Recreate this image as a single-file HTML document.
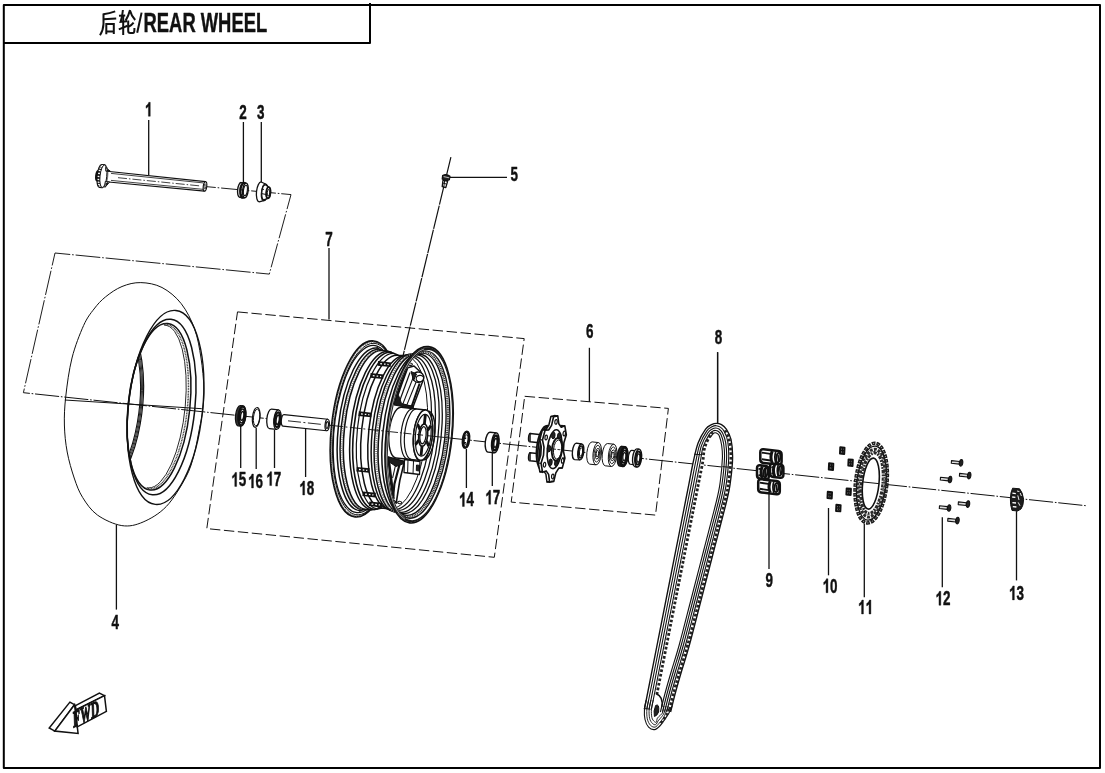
<!DOCTYPE html>
<html><head><meta charset="utf-8"><title>REAR WHEEL</title>
<style>
html,body{margin:0;padding:0;background:#fff;}
body{width:1105px;height:773px;overflow:hidden;font-family:"Liberation Sans",sans-serif;}
svg{display:block;position:absolute;left:0;top:0;will-change:transform;opacity:.999;}
svg text{font-family:"Liberation Sans",sans-serif;font-weight:bold;fill:#111;stroke:#111;stroke-width:.45px;}
</style></head><body>
<svg width="1105" height="773" viewBox="0 0 1105 773" stroke-linecap="butt" stroke-linejoin="round">
<rect x="0" y="0" width="1105" height="773" fill="#fff"/>
<path d="M3.8 768 V4.9 H1100 V768 Z" fill="none" stroke="#000" stroke-width="2"/>
<path d="M3.8 43 H370 V3" fill="none" stroke="#000" stroke-width="2"/>
<text transform="translate(143.6 32.4) scale(0.645 1)" font-size="28.5">REAR WHEEL</text>
<g fill="none" stroke="#111" stroke-width="2.0" stroke-linecap="butt" stroke-linejoin="miter">
<path d="M141.6 12.6 L137.2 32.8" stroke-width="2.0"/>
<path d="M115.2 11.4 Q109.5 13.4 103.4 14.2"/>
<path d="M103.5 13.4 V24 Q103.2 30.5 100.0 35.2"/>
<path d="M103.5 19.2 L116.2 18.6"/>
<path d="M106.3 23.0 V34.2 M113.8 23.0 V34.0 M106.3 24.0 H113.8 M106.3 31.4 H113.8"/>
<path d="M119.0 15.7 L125.2 15.4"/>
<path d="M122.9 10.0 Q122.4 16.5 120.6 21.9 L127.0 21.2"/>
<path d="M123.2 15.6 V35.0"/>
<path d="M118.8 29.4 L127.6 25.8"/>
<path d="M130.0 10.0 Q128.6 15.8 125.6 20.6"/>
<path d="M130.0 10.4 Q131.4 16.0 135.2 20.0"/>
<path d="M133.6 22.6 Q131.6 25.2 128.8 26.6"/>
<path d="M128.2 20.6 V31.0 Q128.2 33.0 130.2 33.0 H133.2 Q134.6 33.0 134.4 28.0"/>
</g>
<path transform="translate(144.96 116.28) scale(0.00657 -0.00952)" d="M806 0H526V1055Q373 911 165 842V1096Q274 1132 402 1231Q530 1331 578 1464H806Z" fill="#111" stroke="#111" stroke-width="47.26"/>
<text transform="translate(239.16 118.88) scale(0.69 1)" font-size="19.5">2</text>
<text transform="translate(257.06 118.88) scale(0.69 1)" font-size="19.5">3</text>
<text transform="translate(111.56 629.18) scale(0.69 1)" font-size="19.5">4</text>
<text transform="translate(510.46 181.48) scale(0.69 1)" font-size="19.5">5</text>
<text transform="translate(586.06 337.98) scale(0.69 1)" font-size="19.5">6</text>
<text transform="translate(325.26 245.98) scale(0.69 1)" font-size="19.5">7</text>
<text transform="translate(714.76 344.08) scale(0.69 1)" font-size="19.5">8</text>
<text transform="translate(765.56 586.68) scale(0.69 1)" font-size="19.5">9</text>
<path transform="translate(822.62 592.68) scale(0.00657 -0.00952)" d="M806 0H526V1055Q373 911 165 842V1096Q274 1132 402 1231Q530 1331 578 1464H806Z" fill="#111" stroke="#111" stroke-width="47.26"/>
<text transform="translate(830.1 592.68) scale(0.69 1)" font-size="19.5">0</text>
<path transform="translate(858.12 613.98) scale(0.00657 -0.00952)" d="M806 0H526V1055Q373 911 165 842V1096Q274 1132 402 1231Q530 1331 578 1464H806Z" fill="#111" stroke="#111" stroke-width="47.26"/>
<path transform="translate(865.6 613.98) scale(0.00657 -0.00952)" d="M806 0H526V1055Q373 911 165 842V1096Q274 1132 402 1231Q530 1331 578 1464H806Z" fill="#111" stroke="#111" stroke-width="47.26"/>
<path transform="translate(935.52 605.28) scale(0.00657 -0.00952)" d="M806 0H526V1055Q373 911 165 842V1096Q274 1132 402 1231Q530 1331 578 1464H806Z" fill="#111" stroke="#111" stroke-width="47.26"/>
<text transform="translate(943 605.28) scale(0.69 1)" font-size="19.5">2</text>
<path transform="translate(1009.02 599.88) scale(0.00657 -0.00952)" d="M806 0H526V1055Q373 911 165 842V1096Q274 1132 402 1231Q530 1331 578 1464H806Z" fill="#111" stroke="#111" stroke-width="47.26"/>
<text transform="translate(1016.5 599.88) scale(0.69 1)" font-size="19.5">3</text>
<path transform="translate(459.02 506.48) scale(0.00657 -0.00952)" d="M806 0H526V1055Q373 911 165 842V1096Q274 1132 402 1231Q530 1331 578 1464H806Z" fill="#111" stroke="#111" stroke-width="47.26"/>
<text transform="translate(466.5 506.48) scale(0.69 1)" font-size="19.5">4</text>
<path transform="translate(231.32 486.38) scale(0.00657 -0.00952)" d="M806 0H526V1055Q373 911 165 842V1096Q274 1132 402 1231Q530 1331 578 1464H806Z" fill="#111" stroke="#111" stroke-width="47.26"/>
<text transform="translate(238.8 486.38) scale(0.69 1)" font-size="19.5">5</text>
<path transform="translate(248.12 487.98) scale(0.00657 -0.00952)" d="M806 0H526V1055Q373 911 165 842V1096Q274 1132 402 1231Q530 1331 578 1464H806Z" fill="#111" stroke="#111" stroke-width="47.26"/>
<text transform="translate(255.6 487.98) scale(0.69 1)" font-size="19.5">6</text>
<path transform="translate(266.32 485.58) scale(0.00657 -0.00952)" d="M806 0H526V1055Q373 911 165 842V1096Q274 1132 402 1231Q530 1331 578 1464H806Z" fill="#111" stroke="#111" stroke-width="47.26"/>
<text transform="translate(273.8 485.58) scale(0.69 1)" font-size="19.5">7</text>
<path transform="translate(485.32 504.28) scale(0.00657 -0.00952)" d="M806 0H526V1055Q373 911 165 842V1096Q274 1132 402 1231Q530 1331 578 1464H806Z" fill="#111" stroke="#111" stroke-width="47.26"/>
<text transform="translate(492.8 504.28) scale(0.69 1)" font-size="19.5">7</text>
<path transform="translate(299.32 494.98) scale(0.00657 -0.00952)" d="M806 0H526V1055Q373 911 165 842V1096Q274 1132 402 1231Q530 1331 578 1464H806Z" fill="#111" stroke="#111" stroke-width="47.26"/>
<text transform="translate(306.8 494.98) scale(0.69 1)" font-size="19.5">8</text>
<path d="M148.7 120L148.7 175" stroke="#111" stroke-width="1.3" fill="none" />
<path d="M243.4 122L243.4 183.5" stroke="#111" stroke-width="1.3" fill="none" />
<path d="M261.3 122L261.3 182.6" stroke="#111" stroke-width="1.3" fill="none" />
<path d="M116.4 524.8L116.4 609.6" stroke="#111" stroke-width="1.3" fill="none" />
<path d="M449.8 177.4L507 177.4" stroke="#111" stroke-width="1.3" fill="none" />
<path d="M589.4 347.8L589.4 401.9" stroke="#111" stroke-width="1.3" fill="none" />
<path d="M329 248L329 319.6" stroke="#111" stroke-width="1.3" fill="none" />
<path d="M717.6 352.2L717.6 423.4" stroke="#111" stroke-width="1.3" fill="none" />
<path d="M769 493.8L769 568.9" stroke="#111" stroke-width="1.3" fill="none" />
<path d="M828.5 508L828.5 575.3" stroke="#111" stroke-width="1.3" fill="none" />
<path d="M864.3 523.6L864.3 597.3" stroke="#111" stroke-width="1.3" fill="none" />
<path d="M942.3 517.2L942.3 587.2" stroke="#111" stroke-width="1.3" fill="none" />
<path d="M1016.5 511.1L1016.5 580.4" stroke="#111" stroke-width="1.3" fill="none" />
<path d="M466.4 449L466.4 488" stroke="#111" stroke-width="1.3" fill="none" />
<path d="M240.7 426L240.7 468" stroke="#111" stroke-width="1.3" fill="none" />
<path d="M256.2 428L256.2 469" stroke="#111" stroke-width="1.3" fill="none" />
<path d="M274.5 430L274.5 468" stroke="#111" stroke-width="1.3" fill="none" />
<path d="M492.3 453L492.3 486" stroke="#111" stroke-width="1.3" fill="none" />
<path d="M305.6 428.8L305.6 477" stroke="#111" stroke-width="1.3" fill="none" />
<g id="tire">
<path d="M140.8 282.6 C147.47 282.77 155.27 284 162 287.5 C168.73 291 175.77 296.7 181.2 303.6 C186.63 310.5 191.3 319.83 194.6 328.9 C197.9 337.97 199.45 348.15 201 358 C202.55 367.85 203.6 379.33 203.9 388 C204.2 396.67 203.55 403.2 202.8 410 C202.05 416.8 200.87 421.3 199.4 428.8 C197.93 436.3 196.27 446.92 194 455 C191.73 463.08 190.4 468.73 185.8 477.3 C181.2 485.87 173.52 498.95 166.4 506.4 C159.28 513.85 150.53 518.8 143.1 522 C135.67 525.2 129.42 526.77 121.8 525.6 C114.18 524.43 103.93 519.7 97.4 515 C90.87 510.3 86.47 503.57 82.6 497.4 C78.73 491.23 76.77 485.57 74.2 478 C71.63 470.43 68.83 460.83 67.2 452 C65.57 443.17 64.63 434.32 64.4 425 C64.17 415.68 64.53 407.27 65.8 396.1 C67.07 384.93 69.03 369.77 72 358 C74.97 346.23 79.93 333.67 83.6 325.5 C87.27 317.33 90.35 313.77 94 309 C97.65 304.23 100.83 300.65 105.5 296.9 C110.17 293.15 116.12 288.88 122 286.5 C127.88 284.12 134.13 282.43 140.8 282.6Z" fill="#fff" stroke="#111" stroke-width="1" />
<path d="M64.8 400.0 L201.8 408.7" fill="none" stroke="#111" stroke-width="1" />
<path d="M202.44 411.37 A37.1 97.5 6.07 0 1 155.24 504.4 A37.1 97.5 6.07 0 1 128.66 403.53 A37.1 97.5 6.07 0 1 175.86 310.5 A37.1 97.5 6.07 0 1 202.44 411.37" fill="none" stroke="#111" stroke-width="1.35" />
<path d="M194.71 410.57 A33.3 88.2 6.07 0 1 152.27 494.76 A33.3 88.2 6.07 0 1 128.49 403.53 A33.3 88.2 6.07 0 1 170.93 319.34 A33.3 88.2 6.07 0 1 194.71 410.57" fill="none" stroke="#111" stroke-width="1.5" />
<path d="M189.68 410.02 A30.9 83.7 6.07 0 1 150.1 489.98 A30.9 83.7 6.07 0 1 128.22 403.48 A30.9 83.7 6.07 0 1 167.8 323.52 A30.9 83.7 6.07 0 1 189.68 410.02" fill="none" stroke="#111" stroke-width="1.5" />
<path d="M163.84 324.4 A29.7 82.7 6.07 0 1 187.88 402.56 A29.7 82.7 6.07 0 1 151.56 488.8 A29.7 82.7 6.07 0 1 146.41 488.25" fill="none" stroke="#444" stroke-width="1.5" stroke-dasharray="1.0 0.6"/>
<path d="M164.15 325.1 A28.6 81.8 6.07 0 1 185.22 406.68 A28.6 81.8 6.07 0 1 148.85 487.9 A28.6 81.8 6.07 0 1 146.86 487.69" fill="none" stroke="#111" stroke-width="0.9" />
<clipPath id="tclip"><path d="M189.68 410.02 A30.9 83.7 6.07 0 1 150.1 489.98 A30.9 83.7 6.07 0 1 128.22 403.48 A30.9 83.7 6.07 0 1 167.8 323.52 A30.9 83.7 6.07 0 1 189.68 410.02"/></clipPath>
<g clip-path="url(#tclip)">
<path d="M125.19 323.83 A31.5 84 6.07 0 1 140.31 423.3 A31.5 84 6.07 0 1 107.69 488.35" fill="none" stroke="#111" stroke-width="1.2" />
<path d="M124.12 324.31 A31.5 83.4 6.07 0 1 139.32 423.09 A31.5 83.4 6.07 0 1 106.75 487.66" fill="none" stroke="#111" stroke-width="0.9" />
<path d="M123.06 324.79 A31.5 82.8 6.07 0 1 138.33 422.88 A31.5 82.8 6.07 0 1 105.82 486.96" fill="none" stroke="#111" stroke-width="0.9" />
<path d="M122 325.27 A31.5 82.2 6.07 0 1 137.34 422.67 A31.5 82.2 6.07 0 1 104.88 486.27" fill="none" stroke="#111" stroke-width="1.1" />
</g>
</g>
<path d="M205 186.5 L291 194.6 L269.3 274.1" fill="none" stroke="#111" stroke-width="0.95" stroke-dasharray="24.8 1.9 1.6 1.9" stroke-dashoffset="14"/>
<path d="M55 253 L269.3 274.1" fill="none" stroke="#111" stroke-width="0.95" stroke-dasharray="24.8 1.9 1.6 1.9" stroke-dashoffset="9.5"/>
<path d="M55 253 L23.4 392.7" fill="none" stroke="#111" stroke-width="0.95" stroke-dasharray="24.8 1.9 1.6 1.9" stroke-dashoffset="12"/>
<path d="M23.4 392.7 L1086 505.7" fill="none" stroke="#111" stroke-width="1" stroke-dasharray="24.2 1.8 1.6 1.8" stroke-dashoffset="17.7"/>
<path d="M450.9 157.1 L403.0 356" fill="none" stroke="#111" stroke-width="1.2" stroke-dasharray="24 0.9"/>
<path d="M237.5 311.9 L524.2 338.6 L494.3 557.3 L206.8 528.6 Z" fill="none" stroke="#111" stroke-width="1" stroke-dasharray="10.4 3.6"/>
<path d="M524.7 396.3 L668.4 408.4 L655.5 515.1 L511.2 502.1 Z" fill="none" stroke="#111" stroke-width="1" stroke-dasharray="10.4 3.6"/>
<g id="axle">
<path d="M205.51 181.63 A1.79 4.8 6.07 0 1 206.78 186.59 A1.79 4.8 6.07 0 1 204.49 191.17 L105.94 181.82 A1.97 5.3 6.07 0 1 104.54 176.34 A1.97 5.3 6.07 0 1 107.06 171.28Z" fill="#fff" stroke="#111" stroke-width="1.1" />
<path d="M204.49 191.17 A1.79 4.8 6.07 0 1 203.22 186.21 A1.79 4.8 6.07 0 1 205.51 181.63" fill="none" stroke="#111" stroke-width="1.1" />
<path d="M205.96 186.5 A0.97 2.6 6.07 0 1 204.73 188.99 A0.97 2.6 6.07 0 1 204.04 186.3 A0.97 2.6 6.07 0 1 205.27 183.81 A0.97 2.6 6.07 0 1 205.96 186.5" fill="none" stroke="#111" stroke-width="0.9" />
<path d="M111 173.4L203.5 182.94" stroke="#111" stroke-width="0.8" fill="none" />
<path d="M111 180.4L203.5 189.38" stroke="#111" stroke-width="0.8" fill="none" />
<path d="M118 177.7 L200 185.9" fill="none" stroke="#111" stroke-width="0.8" stroke-dasharray="9 2 1.5 2"/>
<path d="M99.93 170.87 A1.7 5 6.07 0 1 101.09 176.02 A1.7 5 6.07 0 1 98.87 180.81 L97.07 180.63 A1.7 5 6.07 0 1 95.91 175.48 A1.7 5 6.07 0 1 98.13 170.69Z" fill="#1c1c1c" stroke="#111" stroke-width="1.6" />
<path d="M98.87 180.81 A1.7 5 6.07 0 1 97.71 175.66 A1.7 5 6.07 0 1 99.93 170.87" fill="none" stroke="#111" stroke-width="1.6" />
<path d="M104.59 165 A3.39 11.3 6.07 0 1 106.77 176.6 A3.39 11.3 6.07 0 1 102.21 187.48 L99.41 187.2 A3.39 11.3 6.07 0 1 97.23 175.6 A3.39 11.3 6.07 0 1 101.79 164.72Z" fill="#1c1c1c" stroke="#111" stroke-width="1.4" />
<path d="M102.21 187.48 A3.39 11.3 6.07 0 1 100.03 175.88 A3.39 11.3 6.07 0 1 104.59 165" fill="none" stroke="#111" stroke-width="1.4" />
<path d="M98.86 185.91 l2.2 0.22" stroke="#fff" stroke-width="1.3" fill="none"/>
<path d="M98.17 184.43 l2.2 0.22" stroke="#fff" stroke-width="1.3" fill="none"/>
<path d="M97.72 182.21 l2.2 0.22" stroke="#fff" stroke-width="1.3" fill="none"/>
<path d="M97.55 179.45 l2.2 0.22" stroke="#fff" stroke-width="1.3" fill="none"/>
<path d="M97.67 176.39 l2.2 0.22" stroke="#fff" stroke-width="1.3" fill="none"/>
<path d="M98.07 173.29 l2.2 0.22" stroke="#fff" stroke-width="1.3" fill="none"/>
<path d="M98.72 170.43 l2.2 0.22" stroke="#fff" stroke-width="1.3" fill="none"/>
<path d="M99.56 168.05 l2.2 0.22" stroke="#fff" stroke-width="1.3" fill="none"/>
<path d="M100.52 166.37 l2.2 0.22" stroke="#fff" stroke-width="1.3" fill="none"/>
<path d="M101.51 165.53 l2.2 0.22" stroke="#fff" stroke-width="1.3" fill="none"/>
<path d="M106.77 176.6 A3.39 11.3 6.07 0 1 102.21 187.48 A3.39 11.3 6.07 0 1 100.03 175.88 A3.39 11.3 6.07 0 1 104.59 165 A3.39 11.3 6.07 0 1 106.77 176.6" fill="#fff" stroke="#111" stroke-width="1" />
<path d="M105.97 166.09 A3.12 10.4 6.07 0 1 107.59 177.59 A3.12 10.4 6.07 0 1 103.77 186.69" fill="none" stroke="#666" stroke-width="0.9" />
<path d="M105.6 167.4 L110.4 171.3 L105.8 171.2 Z M105.0 187.4 L109.6 181.9 L105.2 181.6 Z" fill="#fff" stroke="#111" stroke-width="1.0"/>
<path d="M106.6 169.6 l2.2 1.6 M106.0 184.6 l2.0 -2.0" stroke="#111" stroke-width="1.6" fill="none"/>
</g>
<g id="nut2">
<path d="M246.18 183.08 A2.75 7.4 6.07 0 1 248.14 190.73 A2.75 7.4 6.07 0 1 244.62 197.8 L239.62 197.3 A2.75 7.4 6.07 0 1 237.66 189.65 A2.75 7.4 6.07 0 1 241.18 182.58Z" fill="#fff" stroke="#111" stroke-width="1.4" />
<path d="M244.62 197.8 A2.75 7.4 6.07 0 1 242.66 190.15 A2.75 7.4 6.07 0 1 246.18 183.08" fill="none" stroke="#111" stroke-width="1.4" />
<path d="M243.89 196.74 A2.75 7.4 6.07 0 1 240.44 193.65 A2.75 7.4 6.07 0 1 242.51 183.7 A2.75 7.4 6.07 0 1 245.25 183.99" fill="none" stroke="#111" stroke-width="2.4" />
<path d="M247.32 190.64 A1.93 5.2 6.07 0 1 244.85 195.61 A1.93 5.2 6.07 0 1 243.48 190.24 A1.93 5.2 6.07 0 1 245.95 185.27 A1.93 5.2 6.07 0 1 247.32 190.64" fill="none" stroke="#111" stroke-width="1.1" />
<path d="M240.6 189.76L242.6 190.06" stroke="#111" stroke-width="1" fill="none" />
<path d="M240.8 194.58L242.6 194.96" stroke="#111" stroke-width="1" fill="none" />
</g>
<g id="cone3">
<path d="M265.49 184.01 A3.12 8.4 6.07 0 1 267.71 192.69 A3.12 8.4 6.07 0 1 263.71 200.71 L259.14 201.86 A3.72 10 6.07 0 1 256.5 191.53 A3.72 10 6.07 0 1 261.26 181.98Z" fill="#fff" stroke="#111" stroke-width="1.3" />
<path d="M266.01 184.19 A3.12 8.4 6.07 0 1 267.51 194.14 A3.12 8.4 6.07 0 1 263.19 200.53 A3.12 8.4 6.07 0 1 261.69 190.58 A3.12 8.4 6.07 0 1 265.49 184.01" fill="none" stroke="#111" stroke-width="1.2" />
<path d="M268.89 187.16 A2.08 5.6 6.07 0 1 270.37 192.95 A2.08 5.6 6.07 0 1 267.71 198.3 L263.8 199.92 A2.83 7.6 6.07 0 1 261.79 192.06 A2.83 7.6 6.07 0 1 265.4 184.8Z" fill="#fff" stroke="#111" stroke-width="1.3" />
<path d="M270.37 192.95 A2.08 5.6 6.07 0 1 267.71 198.3 A2.08 5.6 6.07 0 1 266.23 192.51 A2.08 5.6 6.07 0 1 268.89 187.16 A2.08 5.6 6.07 0 1 270.37 192.95" fill="#fff" stroke="#111" stroke-width="1.9" />
<path d="M269.72 192.88 A1.23 3.3 6.07 0 1 268.15 196.03 A1.23 3.3 6.07 0 1 267.28 192.62 A1.23 3.3 6.07 0 1 268.85 189.47 A1.23 3.3 6.07 0 1 269.72 192.88" fill="none" stroke="#111" stroke-width="1" />
<path d="M262 188.9L264 189.5" stroke="#111" stroke-width="1" fill="none" />
<path d="M262 193.7L266.5 194.55" stroke="#111" stroke-width="1" fill="none" />
</g>
<g id="p15-18">
<path d="M243.08 405.79 A3.79 10.2 6.07 0 1 245.77 416.34 A3.79 10.2 6.07 0 1 240.92 426.08 L238.22 425.79 A3.79 10.2 6.07 0 1 235.53 415.25 A3.79 10.2 6.07 0 1 240.38 405.51Z" fill="#333" stroke="#111" stroke-width="1.2" />
<path d="M240.92 426.08 A3.79 10.2 6.07 0 1 238.23 415.54 A3.79 10.2 6.07 0 1 243.08 405.79" fill="none" stroke="#111" stroke-width="1.2" />
<path d="M245.44 416.3 A3.46 9.3 6.07 0 1 241.02 425.19 A3.46 9.3 6.07 0 1 238.56 415.57 A3.46 9.3 6.07 0 1 242.98 406.69 A3.46 9.3 6.07 0 1 245.44 416.3" fill="#fff" stroke="#111" stroke-width="2" />
<path d="M244.59 416.21 A2.6 7 6.07 0 1 241.26 422.9 A2.6 7 6.07 0 1 239.41 415.66 A2.6 7 6.07 0 1 242.74 408.98 A2.6 7 6.07 0 1 244.59 416.21" fill="none" stroke="#111" stroke-width="1.5" />
<path d="M243.83 416.13 A1.64 4.4 6.07 0 1 241.73 420.33 A1.64 4.4 6.07 0 1 240.57 415.79 A1.64 4.4 6.07 0 1 242.67 411.58 A1.64 4.4 6.07 0 1 243.83 416.13" fill="none" stroke="#111" stroke-width="1.5" />
<path d="M259.9 417.84 A3.72 10 6.07 0 1 255.14 427.39 A3.72 10 6.07 0 1 252.5 417.05 A3.72 10 6.07 0 1 257.26 407.5 A3.72 10 6.07 0 1 259.9 417.84" fill="#fff" stroke="#111" stroke-width="1.2" />
<path d="M259.71 417.82 A3.12 8.4 6.07 0 1 255.71 425.84 A3.12 8.4 6.07 0 1 253.49 417.16 A3.12 8.4 6.07 0 1 257.49 409.14 A3.12 8.4 6.07 0 1 259.71 417.82" fill="none" stroke="#111" stroke-width="1" />
<path d="M278.54 409.97 A3.65 9.8 6.07 0 1 281.13 420.1 A3.65 9.8 6.07 0 1 276.46 429.46 L269.46 428.71 A3.65 9.8 6.07 0 1 266.87 418.58 A3.65 9.8 6.07 0 1 271.54 409.22Z" fill="#fff" stroke="#111" stroke-width="1.3" />
<path d="M276.46 429.46 A3.65 9.8 6.07 0 1 273.87 419.33 A3.65 9.8 6.07 0 1 278.54 409.97" fill="none" stroke="#111" stroke-width="1.3" />
<path d="M280.24 420 A2.75 7.4 6.07 0 1 276.72 427.07 A2.75 7.4 6.07 0 1 274.76 419.42 A2.75 7.4 6.07 0 1 278.28 412.35 A2.75 7.4 6.07 0 1 280.24 420" fill="none" stroke="#111" stroke-width="2.2" />
<path d="M279.4 419.91 A1.71 4.6 6.07 0 1 277.21 424.31 A1.71 4.6 6.07 0 1 276 419.55 A1.71 4.6 6.07 0 1 278.19 415.16 A1.71 4.6 6.07 0 1 279.4 419.91" fill="none" stroke="#111" stroke-width="1.7" />
<path d="M327.81 419.23 A2.16 5.8 6.07 0 1 329.35 425.22 A2.16 5.8 6.07 0 1 326.59 430.76 L282.89 426.12 A2.16 5.8 6.07 0 1 281.35 420.12 A2.16 5.8 6.07 0 1 284.11 414.58Z" fill="#fff" stroke="#111" stroke-width="1.2" />
<path d="M326.59 430.76 A2.16 5.8 6.07 0 1 325.05 424.77 A2.16 5.8 6.07 0 1 327.81 419.23" fill="none" stroke="#111" stroke-width="1.2" />
<path d="M328.46 425.13 A1.26 3.4 6.07 0 1 326.84 428.37 A1.26 3.4 6.07 0 1 325.94 424.86 A1.26 3.4 6.07 0 1 327.56 421.61 A1.26 3.4 6.07 0 1 328.46 425.13" fill="none" stroke="#111" stroke-width="1.2" />
<path d="M288 420.83 L322 424.44" fill="none" stroke="#111" stroke-width="0.9" stroke-dasharray="13 2.5 2 2.5"/>
</g>
<g id="p14-17b">
<path d="M468.96 440.06 A2.98 8 6.07 0 1 465.15 447.7 A2.98 8 6.07 0 1 463.04 439.43 A2.98 8 6.07 0 1 466.85 431.79 A2.98 8 6.07 0 1 468.96 440.06" fill="#fff" stroke="#111" stroke-width="2.6" />
<path d="M468.05 439.97 A1.86 5 6.07 0 1 465.67 444.74 A1.86 5 6.07 0 1 464.35 439.57 A1.86 5 6.07 0 1 466.73 434.8 A1.86 5 6.07 0 1 468.05 439.97" fill="none" stroke="#111" stroke-width="1" />
<path d="M463.6 437.89 l2.6 0.6 M463.8 442.91 l2.4 -0.2" stroke="#111" stroke-width="1.6" fill="none"/>
<path d="M496.36 432.92 A3.72 10 6.07 0 1 499 443.26 A3.72 10 6.07 0 1 494.24 452.81 L487.94 452.14 A3.72 10 6.07 0 1 485.3 441.8 A3.72 10 6.07 0 1 490.06 432.25Z" fill="#fff" stroke="#111" stroke-width="1.4" />
<path d="M494.24 452.81 A3.72 10 6.07 0 1 491.6 442.47 A3.72 10 6.07 0 1 496.36 432.92" fill="none" stroke="#111" stroke-width="1.4" />
<path d="M498.04 443.15 A2.75 7.4 6.07 0 1 494.52 450.22 A2.75 7.4 6.07 0 1 492.56 442.57 A2.75 7.4 6.07 0 1 496.08 435.5 A2.75 7.4 6.07 0 1 498.04 443.15" fill="none" stroke="#111" stroke-width="2.4" />
<path d="M497.13 443.06 A1.64 4.4 6.07 0 1 495.03 447.26 A1.64 4.4 6.07 0 1 493.87 442.71 A1.64 4.4 6.07 0 1 495.97 438.51 A1.64 4.4 6.07 0 1 497.13 443.06" fill="none" stroke="#111" stroke-width="1.5" />
</g>
<g id="rim">
<path d="M397.06 432.42 A32.85 88.3 6.07 0 1 355.06 516.75 A32.85 88.3 6.07 0 1 331.74 425.47 A32.85 88.3 6.07 0 1 373.74 341.14 A32.85 88.3 6.07 0 1 397.06 432.42" fill="#fff" stroke="#111" stroke-width="2" />
<path d="M367.94 510.78 A32.07 86.2 6.07 0 1 332.52 455.21 A32.07 86.2 6.07 0 1 363.26 347.37 A32.07 86.2 6.07 0 1 389.44 356.54" fill="none" stroke="#111" stroke-width="1" />
<path d="M367.78 508.69 A31.25 84 6.07 0 1 333.26 454.53 A31.25 84 6.07 0 1 363.22 349.44 A31.25 84 6.07 0 1 388.73 358.38" fill="none" stroke="#111" stroke-width="1.3" />
<path d="M376.6 347.48 L377.36 347.96 L379.61 349.61 L382.55 350.53 L388.72 351.48 L391.45 352.38 L398.32 355.32 L405.54 355.89 L409.7 354.82 L413.22 354.09 L417.25 354.22 L422.07 352.62 L422.07 352.62 A30.5 82 6.07 0 1 443.73 437.38 A30.5 82 6.07 0 1 404.73 515.7 L404.73 515.7 L400.35 513.12 L396.38 512.4 L393.1 510.94 L389.26 509.02 L382.08 508.06 L374.75 509.49 L371.88 509.79 L365.65 509.43 L362.59 509.71 L360.04 510.85 L359.2 511.16 L359.2 511.16 A30.62 82.3 6.07 0 1 337.46 426.08 A30.62 82.3 6.07 0 1 376.6 347.48Z" fill="#fff" stroke="none" stroke-width="0" />
<path d="M376.6 347.48 L377.36 347.96 L379.61 349.61 L382.55 350.53 L388.72 351.48 L391.45 352.38 L398.32 355.32 L405.54 355.89 L409.7 354.82 L413.22 354.09 L417.25 354.22 L422.07 352.62" fill="none" stroke="#111" stroke-width="1.6" />
<path d="M359.2 511.16 L360.04 510.85 L362.59 509.71 L365.65 509.43 L371.88 509.79 L374.75 509.49 L382.08 508.06 L389.26 509.02 L393.1 510.94 L396.38 512.4 L400.35 513.12 L404.73 515.7" fill="none" stroke="#111" stroke-width="1.6" />
<path d="M360.04 510.85 A30.47 81.9 6.07 0 1 338.4 426.18 A30.47 81.9 6.07 0 1 377.36 347.96" fill="none" stroke="#111" stroke-width="1.5" />
<path d="M362.59 509.71 A29.95 80.5 6.07 0 1 341.32 426.49 A29.95 80.5 6.07 0 1 379.61 349.61" fill="none" stroke="#111" stroke-width="1.5" />
<path d="M365.65 509.43 A29.72 79.9 6.07 0 1 344.54 426.84 A29.72 79.9 6.07 0 1 382.55 350.53" fill="none" stroke="#111" stroke-width="1.6" />
<path d="M371.88 509.79 A29.61 79.6 6.07 0 1 350.85 427.51 A29.61 79.6 6.07 0 1 388.72 351.48" fill="none" stroke="#111" stroke-width="1.5" />
<path d="M374.75 509.49 A29.39 79 6.07 0 1 353.88 427.83 A29.39 79 6.07 0 1 391.45 352.38" fill="none" stroke="#111" stroke-width="1.6" />
<path d="M382.08 508.06 A28.57 76.8 6.07 0 1 361.79 428.67 A28.57 76.8 6.07 0 1 398.32 355.32" fill="none" stroke="#111" stroke-width="1.5" />
<path d="M389.26 509.02 A28.64 77 6.07 0 1 368.92 429.43 A28.64 77 6.07 0 1 405.54 355.89" fill="none" stroke="#111" stroke-width="1.5" />
<path d="M393.1 510.94 A29.2 78.5 6.07 0 1 372.36 429.79 A29.2 78.5 6.07 0 1 409.7 354.82" fill="none" stroke="#111" stroke-width="1.5" />
<path d="M396.38 512.4 A29.61 79.6 6.07 0 1 375.35 430.11 A29.61 79.6 6.07 0 1 413.22 354.09" fill="none" stroke="#111" stroke-width="1.5" />
<path d="M400.35 513.12 A29.72 79.9 6.07 0 1 379.24 430.53 A29.72 79.9 6.07 0 1 417.25 354.22" fill="none" stroke="#111" stroke-width="1.6" />
<path d="M404.73 515.7 A30.5 82 6.07 0 1 383.07 430.93 A30.5 82 6.07 0 1 422.07 352.62" fill="none" stroke="#111" stroke-width="1.5" />
<path d="M378.13 509.05 A29.09 78.2 6.07 0 1 357.47 428.21 A29.09 78.2 6.07 0 1 394.67 353.53" fill="none" stroke="#111" stroke-width="1.2" />
<path d="M361.42 514.99 A32.44 87.2 6.07 0 1 331.53 440.68 A32.44 87.2 6.07 0 1 368.38 343.01 A32.44 87.2 6.07 0 1 382.16 346.13" fill="none" stroke="#888" stroke-width="1.2" stroke-dasharray="1.1 1.1"/>
<path d="M361.57 508.99 A29.83 80.2 6.07 0 1 343.78 419.73 A29.83 80.2 6.07 0 1 378.46 350.1" fill="none" stroke="#888" stroke-width="1.4" stroke-dasharray="1.1 1.1"/>
<path d="M395.82 512.23 A29.69 79.8 6.07 0 1 378.13 423.41 A29.69 79.8 6.07 0 1 412.63 354.13" fill="none" stroke="#777" stroke-width="1.8" stroke-dasharray="1.1 1.1"/>
<path d="M377.81 363.35 l13 1.38" stroke="#111" stroke-width="4.6" fill="none"/>
<path d="M380.21 363.65 l1.8 0.19 M384.01 364.05 l1.6 0.17 M387.41 364.45 l1.2 0.13" stroke="#fff" stroke-width="1.3" fill="none"/>
<path d="M370.39 375.35 l13 1.38" stroke="#111" stroke-width="4.6" fill="none"/>
<path d="M372.79 375.65 l1.8 0.19 M376.59 376.05 l1.6 0.17 M379.99 376.45 l1.2 0.13" stroke="#fff" stroke-width="1.3" fill="none"/>
<path d="M358.59 413.59 l13 1.38" stroke="#111" stroke-width="4.6" fill="none"/>
<path d="M360.99 413.89 l1.8 0.19 M364.79 414.29 l1.6 0.17 M368.19 414.69 l1.2 0.13" stroke="#fff" stroke-width="1.3" fill="none"/>
<path d="M356.53 469.18 l13 1.38" stroke="#111" stroke-width="4.6" fill="none"/>
<path d="M358.93 469.48 l1.8 0.19 M362.73 469.88 l1.6 0.17 M366.13 470.28 l1.2 0.13" stroke="#fff" stroke-width="1.3" fill="none"/>
<path d="M362.66 493.74 l13 1.38" stroke="#111" stroke-width="4.6" fill="none"/>
<path d="M365.06 494.04 l1.8 0.19 M368.86 494.44 l1.6 0.17 M372.26 494.84 l1.2 0.13" stroke="#fff" stroke-width="1.3" fill="none"/>
<path d="M369.1 503.73 l13 1.38" stroke="#111" stroke-width="4.6" fill="none"/>
<path d="M371.5 504.03 l1.8 0.19 M375.3 504.43 l1.6 0.17 M378.7 504.83 l1.2 0.13" stroke="#fff" stroke-width="1.3" fill="none"/>
<path d="M451.87 438.25 A32.96 88.6 6.07 0 1 409.73 522.87 A32.96 88.6 6.07 0 1 386.33 431.28 A32.96 88.6 6.07 0 1 428.47 346.66 A32.96 88.6 6.07 0 1 451.87 438.25" fill="#fff" stroke="#111" stroke-width="1.6" />
<path d="M451.65 438.22 A32.74 88 6.07 0 1 409.79 522.27 A32.74 88 6.07 0 1 386.55 431.3 A32.74 88 6.07 0 1 428.41 347.26 A32.74 88 6.07 0 1 451.65 438.22Z M450.68 438.32 A30.95 85.5 6.07 0 1 410.86 520.07 A30.95 85.5 6.07 0 1 389.12 431.78 A30.95 85.5 6.07 0 1 428.94 350.03 A30.95 85.5 6.07 0 1 450.68 438.32Z" fill="#1a1a1a" fill-rule="evenodd" stroke="none"/>
<path d="M404.96 519.22 A31.86 86.8 6.07 0 1 389.9 416.5 A31.86 86.8 6.07 0 1 424.18 348.86" fill="none" stroke="#fff" stroke-width="0.6" />
<clipPath id="rclip"><path d="M450.68 438.32 A30.95 85.5 6.07 0 1 410.86 520.07 A30.95 85.5 6.07 0 1 389.12 431.78 A30.95 85.5 6.07 0 1 428.94 350.03 A30.95 85.5 6.07 0 1 450.68 438.32"/></clipPath>
<g clip-path="url(#rclip)">
<path d="M420.86 351.66 A31.29 84.1 6.07 0 1 449.68 423.33 A31.29 84.1 6.07 0 1 414.14 517.53 A31.29 84.1 6.07 0 1 403.34 516.38" fill="none" stroke="#111" stroke-width="1.4" />
<path d="M417.95 353.93 A30.32 81.5 6.07 0 1 445.89 423.38 A30.32 81.5 6.07 0 1 411.45 514.66 A30.32 81.5 6.07 0 1 400.98 513.55" fill="none" stroke="#111" stroke-width="1.4" />
<path d="M414.69 355.07 A29.76 80 6.07 0 1 442.11 423.24 A29.76 80 6.07 0 1 408.31 512.84 A29.76 80 6.07 0 1 398.03 511.75" fill="none" stroke="#111" stroke-width="1.3" />
<path d="M411.95 355.76 A29.39 79 6.07 0 1 439.03 423.09 A29.39 79 6.07 0 1 405.65 511.57 A29.39 79 6.07 0 1 395.5 510.49" fill="none" stroke="#111" stroke-width="1.3" />
<path d="M408.69 356.9 A28.83 77.5 6.07 0 1 435.26 422.95 A28.83 77.5 6.07 0 1 402.51 509.75 A28.83 77.5 6.07 0 1 392.55 508.69" fill="none" stroke="#111" stroke-width="1.3" />
<path d="M404.97 357 A28.64 77 6.07 0 1 431.36 422.62 A28.64 77 6.07 0 1 398.83 508.87 A28.64 77 6.07 0 1 388.94 507.81" fill="none" stroke="#111" stroke-width="1.2" />
<path d="M401.07 356.59 A28.64 77 6.07 0 1 427.46 422.21 A28.64 77 6.07 0 1 394.93 508.45 A28.64 77 6.07 0 1 385.04 507.4" fill="none" stroke="#111" stroke-width="1" />
<path d="M419.4 352.79 A30.8 82.8 6.07 0 1 447.78 423.35 A30.8 82.8 6.07 0 1 412.8 516.09 A30.8 82.8 6.07 0 1 402.16 514.96" fill="none" stroke="#333" stroke-width="2.2" stroke-dasharray="1.1 0.7"/>
<path d="M394 404 L406.9 368 L414 366 L421.5 373 L423 380.5 L413.2 406.5Z" fill="#fff" stroke="#111" stroke-width="1.5" />
<path d="M394.3 403.6 L401.2 383.5 L406.9 368" fill="#fff" stroke="#111" stroke-width="3" />
<path d="M398.6 403.8 L410 372.5" fill="#fff" stroke="#111" stroke-width="1.2" />
<path d="M402.6 404.6 L413.6 376.5" fill="#fff" stroke="#111" stroke-width="1.1" />
<path d="M406.6 405.6 L416.5 381" fill="#fff" stroke="#111" stroke-width="1.1" />
<path d="M411.6 406.5 L419.6 383.5" fill="#fff" stroke="#111" stroke-width="2" />
<path d="M394 402.6 L398.6 395.5 L401.5 403.5 L413.5 406.6 L413.2 408.4 L394 405Z" fill="#1c1c1c" stroke="#111" stroke-width="1" />
<path d="M423.77 377.79 A5.6 5.2 6.07 0 1 417.65 382.37 A5.6 5.2 6.07 0 1 412.63 376.61 A5.6 5.2 6.07 0 1 418.75 372.03 A5.6 5.2 6.07 0 1 423.77 377.79" fill="#fff" stroke="#111" stroke-width="1.3" />
<path d="M423.78 379 A3.8 3.2 6.07 0 1 419.66 381.78 A3.8 3.2 6.07 0 1 416.22 378.2 A3.8 3.2 6.07 0 1 420.34 375.42 A3.8 3.2 6.07 0 1 423.78 379" fill="none" stroke="#111" stroke-width="1.1" />
<path d="M411 371.5 L413.6 380.5 L416.5 374Z" fill="#222" stroke="#111" stroke-width="1" />
<path d="M412.39 364.43 A2.2 1.2 6.07 0 1 410.07 365.39 A2.2 1.2 6.07 0 1 408.01 363.97 A2.2 1.2 6.07 0 1 410.33 363.01 A2.2 1.2 6.07 0 1 412.39 364.43" fill="#fff" stroke="#111" stroke-width="1.2" />
<path d="M388 457 L392.4 498.5 L396.2 503.2 L399.8 480.5 L404.4 461.5Z" fill="#fff" stroke="#111" stroke-width="1.6" />
<path d="M388.6 458.4 L393.6 499" fill="#fff" stroke="#111" stroke-width="2.4" />
<path d="M400.4 461.2 L394.4 484 L393.2 496" fill="#fff" stroke="#111" stroke-width="2.2" />
<path d="M396.6 460.5 L392.6 478" fill="#fff" stroke="#111" stroke-width="1.1" />
<path d="M388 457 L404.4 461.5 L403.8 463.6 L396 466.5 L388.6 461.5Z" fill="#1c1c1c" stroke="#111" stroke-width="1" />
<path d="M404.5 459.5 L420 461.5 L419.5 474.5 L404 472.5Z" fill="#fff" stroke="#111" stroke-width="1.3" />
<path d="M408 460 L407.6 473" fill="#fff" stroke="#111" stroke-width="1" />
<path d="M413.5 461 L413 474" fill="#fff" stroke="#111" stroke-width="1" />
<path d="M416.5 465 L419.6 465.4 L419.4 471 L416.3 470.6Z" fill="#222" stroke="#111" stroke-width="1" />
<path d="M401.59 502.71 A2 1.2 6.07 0 1 399.47 503.69 A2 1.2 6.07 0 1 397.61 502.29 A2 1.2 6.07 0 1 399.73 501.31 A2 1.2 6.07 0 1 401.59 502.71" fill="#fff" stroke="#111" stroke-width="1.1" />
<path d="M425.68 410.02 A9.41 25.3 6.07 0 1 432.36 436.17 A9.41 25.3 6.07 0 1 420.32 460.34 L395.9 457.94 A9.49 25.5 6.07 0 1 389.17 431.58 A9.49 25.5 6.07 0 1 401.3 407.23Z" fill="#fff" stroke="#111" stroke-width="1.4" />
<path d="M420.32 460.34 A9.41 25.3 6.07 0 1 413.64 434.18 A9.41 25.3 6.07 0 1 425.68 410.02" fill="none" stroke="#111" stroke-width="1.4" />
<path d="M407.49 459.06 A9.45 25.4 6.07 0 1 401.2 431.97 A9.45 25.4 6.07 0 1 412.86 408.57" fill="none" stroke="#111" stroke-width="1.2" />
<path d="M411.09 459.44 A9.45 25.4 6.07 0 1 404.8 432.35 A9.45 25.4 6.07 0 1 416.46 408.95" fill="none" stroke="#111" stroke-width="1.2" />
<path d="M428.52 411.04 A9.15 24.6 6.07 0 1 434.6 437.27 A9.15 24.6 6.07 0 1 423.32 459.93" fill="none" stroke="#111" stroke-width="1.4" />
<path d="M432.36 436.17 A9.41 25.3 6.07 0 1 420.32 460.34 A9.41 25.3 6.07 0 1 413.64 434.18 A9.41 25.3 6.07 0 1 425.68 410.02 A9.41 25.3 6.07 0 1 432.36 436.17" fill="#fff" stroke="#111" stroke-width="1.5" />
<path d="M430.97 436.02 A7.81 21 6.07 0 1 420.98 456.08 A7.81 21 6.07 0 1 415.43 434.37 A7.81 21 6.07 0 1 425.42 414.32 A7.81 21 6.07 0 1 430.97 436.02" fill="none" stroke="#111" stroke-width="1.2" />
<path d="M428.71 446.14L426.53 440.83" stroke="#111" stroke-width="2.8" fill="none"/>
<path d="M421.02 455.68L422.09 445.64" stroke="#111" stroke-width="2.8" fill="none"/>
<path d="M415.51 444.74L418.76 440.01" stroke="#111" stroke-width="2.8" fill="none"/>
<path d="M417.69 424.25L419.87 429.57" stroke="#111" stroke-width="2.8" fill="none"/>
<path d="M425.38 414.71L424.31 424.76" stroke="#111" stroke-width="2.8" fill="none"/>
<path d="M430.89 425.66L427.64 430.39" stroke="#111" stroke-width="2.8" fill="none"/>
<path d="M427.65 435.67 A4.48 11.2 6.07 0 1 422.02 446.34 A4.48 11.2 6.07 0 1 418.75 434.73 A4.48 11.2 6.07 0 1 424.38 424.06 A4.48 11.2 6.07 0 1 427.65 435.67" fill="none" stroke="#111" stroke-width="1.6" />
<path d="M426.08 435.5 A3.1 8.6 6.07 0 1 422.09 443.73 A3.1 8.6 6.07 0 1 419.92 434.85 A3.1 8.6 6.07 0 1 423.91 426.63 A3.1 8.6 6.07 0 1 426.08 435.5" fill="none" stroke="#111" stroke-width="1.3" />
</g>
<path d="M390 431.67 L423 435.18" fill="none" stroke="#111" stroke-width="0.9" stroke-dasharray="8 2 1.5 2"/>
<path d="M332 425.5 L389 431.56" fill="none" stroke="#111" stroke-width="0.9" stroke-dasharray="11 2.5 2 2.5"/>
<path d="M428 435.71 L453 438.37" fill="none" stroke="#111" stroke-width="0.9" />
</g>
<g id="box6">
<path d="M544 434.94 L530 433.45 L530 441.65 L544 443.14 Z" fill="#fff" stroke="#111" stroke-width="1.5"/>
<path d="M529.56 441.83 A1.5 4.2 6.07 0 1 528.51 437.49 A1.5 4.2 6.07 0 1 530.44 433.48" fill="none" stroke="#111" stroke-width="1.3" />
<path d="M544 454.14 L530 452.65 L530 460.85 L544 462.34 Z" fill="#fff" stroke="#111" stroke-width="1.5"/>
<path d="M529.56 461.03 A1.5 4.2 6.07 0 1 528.51 456.69 A1.5 4.2 6.07 0 1 530.44 452.68" fill="none" stroke="#111" stroke-width="1.3" />
<path d="M553.41 426.11 A8.48 22.8 6.07 0 1 559.43 449.68 A8.48 22.8 6.07 0 1 548.59 471.46 L542.79 470.84 A8.48 22.8 6.07 0 1 536.77 447.27 A8.48 22.8 6.07 0 1 547.61 425.5Z" fill="#fff" stroke="#111" stroke-width="1.7" />
<path d="M548.59 471.46 A8.48 22.8 6.07 0 1 542.57 447.89 A8.48 22.8 6.07 0 1 553.41 426.11" fill="none" stroke="#111" stroke-width="1.7" />
<path d="M543.9 470.94 A8.48 22.8 6.07 0 1 538.26 446.63 A8.48 22.8 6.07 0 1 548.72 425.63" fill="none" stroke="#111" stroke-width="1.8" />
<path d="M545.7 471.13 A8.48 22.8 6.07 0 1 540.06 446.82 A8.48 22.8 6.07 0 1 550.52 425.82" fill="none" stroke="#111" stroke-width="1.6" />
<path d="M547.3 471.3 A8.48 22.8 6.07 0 1 541.66 446.99 A8.48 22.8 6.07 0 1 552.12 425.99" fill="none" stroke="#111" stroke-width="2" />
<path d="M548.87 425.03 L550.89 416.46 L555.07 415.56 L556.09 423.47 L558.57 426.99 L562.11 425.55 L563.63 434.54 L561.2 442.52 L560.7 450.75 L562.22 457.87 L559.56 467.77 L556.1 467.84 L553.13 472.54 L551.11 481.11 L546.93 482.01 L545.91 474.1 L543.43 470.58 L539.89 472.02 L538.37 463.02 L540.8 455.05 L541.3 446.82 L539.78 439.7 L542.44 429.8 L545.9 429.73Z" fill="#fff" stroke="#111" stroke-width="1.5" />
<path d="M551.57 425.31 L553.59 416.75 L557.77 415.85 L558.79 423.75 L561.27 427.28 L564.81 425.84 L566.33 434.83 L563.9 442.81 L563.4 451.03 L564.92 458.16 L562.26 468.06 L558.8 468.13 L555.83 472.83 L553.81 481.39 L549.63 482.3 L548.61 474.39 L546.13 470.87 L542.59 472.31 L541.07 463.31 L543.5 455.33 L544 447.11 L542.48 439.98 L545.14 430.08 L548.6 430.02Z" fill="#fff" stroke="#111" stroke-width="1.6" />
<path d="M550.89 416.46L553.59 416.75" stroke="#111" stroke-width="1.2" fill="none" />
<path d="M562.11 425.55L564.81 425.84" stroke="#111" stroke-width="1.2" fill="none" />
<path d="M562.22 457.87L564.92 458.16" stroke="#111" stroke-width="1.2" fill="none" />
<path d="M551.11 481.11L553.81 481.39" stroke="#111" stroke-width="1.2" fill="none" />
<path d="M539.89 472.02L542.59 472.31" stroke="#111" stroke-width="1.2" fill="none" />
<path d="M539.78 439.7L542.48 439.98" stroke="#111" stroke-width="1.2" fill="none" />
<path d="M555.07 415.56L557.77 415.85" stroke="#111" stroke-width="1.2" fill="none" />
<path d="M563.63 434.54L566.33 434.83" stroke="#111" stroke-width="1.2" fill="none" />
<path d="M559.56 467.77L562.26 468.06" stroke="#111" stroke-width="1.2" fill="none" />
<path d="M546.93 482.01L549.63 482.3" stroke="#111" stroke-width="1.2" fill="none" />
<path d="M538.37 463.02L541.07 463.31" stroke="#111" stroke-width="1.2" fill="none" />
<path d="M542.44 429.8L545.14 430.08" stroke="#111" stroke-width="1.2" fill="none" />
<path d="M561.81 449.93 A7.25 19.5 6.07 0 1 552.54 468.56 A7.25 19.5 6.07 0 1 547.39 448.4 A7.25 19.5 6.07 0 1 556.66 429.78 A7.25 19.5 6.07 0 1 561.81 449.93" fill="#fff" stroke="#111" stroke-width="1.6" />
<path d="M560.8 436.24 A1.7 3.4 6.07 0 1 558.75 439.44 A1.7 3.4 6.07 0 1 557.42 435.88 A1.7 3.4 6.07 0 1 559.47 432.68 A1.7 3.4 6.07 0 1 560.8 436.24" fill="#222" stroke="#111" stroke-width="1" />
<path d="M562.26 449.98 A1.7 3.4 6.07 0 1 560.21 453.18 A1.7 3.4 6.07 0 1 558.88 449.62 A1.7 3.4 6.07 0 1 560.93 446.42 A1.7 3.4 6.07 0 1 562.26 449.98" fill="#222" stroke="#111" stroke-width="1" />
<path d="M557.95 463.11 A1.7 3.4 6.07 0 1 555.9 466.31 A1.7 3.4 6.07 0 1 554.57 462.75 A1.7 3.4 6.07 0 1 556.62 459.55 A1.7 3.4 6.07 0 1 557.95 463.11" fill="#222" stroke="#111" stroke-width="1" />
<path d="M552.18 462.5 A1.7 3.4 6.07 0 1 550.13 465.7 A1.7 3.4 6.07 0 1 548.8 462.14 A1.7 3.4 6.07 0 1 550.85 458.93 A1.7 3.4 6.07 0 1 552.18 462.5" fill="#222" stroke="#111" stroke-width="1" />
<path d="M550.72 448.75 A1.7 3.4 6.07 0 1 548.67 451.96 A1.7 3.4 6.07 0 1 547.34 448.39 A1.7 3.4 6.07 0 1 549.39 445.19 A1.7 3.4 6.07 0 1 550.72 448.75" fill="#222" stroke="#111" stroke-width="1" />
<path d="M555.03 435.63 A1.7 3.4 6.07 0 1 552.98 438.83 A1.7 3.4 6.07 0 1 551.65 435.27 A1.7 3.4 6.07 0 1 553.7 432.07 A1.7 3.4 6.07 0 1 555.03 435.63" fill="#222" stroke="#111" stroke-width="1" />
<path d="M557.24 422 A1.2 2.4 6.07 0 1 555.79 424.26 A1.2 2.4 6.07 0 1 554.85 421.74 A1.2 2.4 6.07 0 1 556.3 419.48 A1.2 2.4 6.07 0 1 557.24 422" fill="#fff" stroke="#111" stroke-width="1.2" />
<path d="M565.47 433.68 A1.2 2.4 6.07 0 1 564.02 435.94 A1.2 2.4 6.07 0 1 563.08 433.43 A1.2 2.4 6.07 0 1 564.53 431.17 A1.2 2.4 6.07 0 1 565.47 433.68" fill="#fff" stroke="#111" stroke-width="1.2" />
<path d="M563.82 460.95 A1.2 2.4 6.07 0 1 562.37 463.21 A1.2 2.4 6.07 0 1 561.43 460.7 A1.2 2.4 6.07 0 1 562.88 458.44 A1.2 2.4 6.07 0 1 563.82 460.95" fill="#fff" stroke="#111" stroke-width="1.2" />
<path d="M553.95 476.55 A1.2 2.4 6.07 0 1 552.5 478.81 A1.2 2.4 6.07 0 1 551.56 476.29 A1.2 2.4 6.07 0 1 553.01 474.03 A1.2 2.4 6.07 0 1 553.95 476.55" fill="#fff" stroke="#111" stroke-width="1.2" />
<path d="M545.72 464.87 A1.2 2.4 6.07 0 1 544.27 467.13 A1.2 2.4 6.07 0 1 543.33 464.61 A1.2 2.4 6.07 0 1 544.78 462.35 A1.2 2.4 6.07 0 1 545.72 464.87" fill="#fff" stroke="#111" stroke-width="1.2" />
<path d="M547.37 437.59 A1.2 2.4 6.07 0 1 545.92 439.85 A1.2 2.4 6.07 0 1 544.98 437.34 A1.2 2.4 6.07 0 1 546.43 435.08 A1.2 2.4 6.07 0 1 547.37 437.59" fill="#fff" stroke="#111" stroke-width="1.2" />
<path d="M562.1 449.96 A5.13 11.4 6.07 0 1 555.79 460.76 A5.13 11.4 6.07 0 1 551.9 448.88 A5.13 11.4 6.07 0 1 558.21 438.09 A5.13 11.4 6.07 0 1 562.1 449.96" fill="#fff" stroke="#111" stroke-width="1.9" />
<path d="M561.61 449.91 A4.03 9.6 6.07 0 1 556.58 459.03 A4.03 9.6 6.07 0 1 553.59 449.06 A4.03 9.6 6.07 0 1 558.62 439.94 A4.03 9.6 6.07 0 1 561.61 449.91" fill="none" stroke="#111" stroke-width="1" />
<path d="M553 449 L561 449.85" fill="none" stroke="#111" stroke-width="0.9" stroke-dasharray="3 1.5"/>
<path d="M581.65 444 A2.98 8 6.07 0 1 583.76 452.27 A2.98 8 6.07 0 1 579.95 459.91 L574.63 459.54 A3.05 8.2 6.07 0 1 572.47 451.07 A3.05 8.2 6.07 0 1 576.37 443.23Z" fill="#fff" stroke="#111" stroke-width="1.3" />
<path d="M579.95 459.91 A2.98 8 6.07 0 1 577.84 451.64 A2.98 8 6.07 0 1 581.65 444" fill="none" stroke="#111" stroke-width="1.3" />
<path d="M583.02 452.19 A2.23 6 6.07 0 1 580.17 457.92 A2.23 6 6.07 0 1 578.58 451.72 A2.23 6 6.07 0 1 581.43 445.99 A2.23 6 6.07 0 1 583.02 452.19" fill="none" stroke="#111" stroke-width="1.6" />
<path d="M582.55 452.14 A1.56 4.2 6.07 0 1 580.56 456.15 A1.56 4.2 6.07 0 1 579.45 451.81 A1.56 4.2 6.07 0 1 581.44 447.8 A1.56 4.2 6.07 0 1 582.55 452.14" fill="none" stroke="#111" stroke-width="1" />
<path d="M598.38 442.56 A4.17 11.2 6.07 0 1 601.34 454.14 A4.17 11.2 6.07 0 1 596.02 464.83 L589.82 464.17 A4.17 11.2 6.07 0 1 586.86 452.6 A4.17 11.2 6.07 0 1 592.18 441.9Z" fill="#fff" stroke="#111" stroke-width="1" />
<path d="M596.02 464.83 A4.17 11.2 6.07 0 1 593.06 453.25 A4.17 11.2 6.07 0 1 598.38 442.56" fill="none" stroke="#111" stroke-width="1" />
<path d="M600.31 454.03 A3.12 8.4 6.07 0 1 596.31 462.05 A3.12 8.4 6.07 0 1 594.09 453.36 A3.12 8.4 6.07 0 1 598.09 445.34 A3.12 8.4 6.07 0 1 600.31 454.03" fill="none" stroke="#111" stroke-width="0.9" />
<path d="M599.4 453.93 A2.01 5.4 6.07 0 1 596.83 459.09 A2.01 5.4 6.07 0 1 595.4 453.5 A2.01 5.4 6.07 0 1 597.97 448.35 A2.01 5.4 6.07 0 1 599.4 453.93" fill="none" stroke="#111" stroke-width="1" />
<path d="M598.62 453.85 A1.23 3.3 6.07 0 1 597.05 457 A1.23 3.3 6.07 0 1 596.18 453.59 A1.23 3.3 6.07 0 1 597.75 450.43 A1.23 3.3 6.07 0 1 598.62 453.85" fill="none" stroke="#111" stroke-width="1" />
<path d="M613.78 444.19 A4.17 11.2 6.07 0 1 616.74 455.77 A4.17 11.2 6.07 0 1 611.42 466.47 L605.22 465.81 A4.17 11.2 6.07 0 1 602.26 454.23 A4.17 11.2 6.07 0 1 607.58 443.54Z" fill="#fff" stroke="#111" stroke-width="1" />
<path d="M611.42 466.47 A4.17 11.2 6.07 0 1 608.46 454.89 A4.17 11.2 6.07 0 1 613.78 444.19" fill="none" stroke="#111" stroke-width="1" />
<path d="M615.71 455.66 A3.12 8.4 6.07 0 1 611.71 463.68 A3.12 8.4 6.07 0 1 609.49 455 A3.12 8.4 6.07 0 1 613.49 446.98 A3.12 8.4 6.07 0 1 615.71 455.66" fill="none" stroke="#111" stroke-width="0.9" />
<path d="M614.8 455.57 A2.01 5.4 6.07 0 1 612.23 460.72 A2.01 5.4 6.07 0 1 610.8 455.14 A2.01 5.4 6.07 0 1 613.37 449.98 A2.01 5.4 6.07 0 1 614.8 455.57" fill="none" stroke="#111" stroke-width="1" />
<path d="M614.02 455.48 A1.23 3.3 6.07 0 1 612.45 458.63 A1.23 3.3 6.07 0 1 611.58 455.22 A1.23 3.3 6.07 0 1 613.15 452.07 A1.23 3.3 6.07 0 1 614.02 455.48" fill="none" stroke="#111" stroke-width="1" />
<path d="M625.06 446.6 A3.72 10 6.07 0 1 627.7 456.94 A3.72 10 6.07 0 1 622.94 466.49 L619.94 466.17 A3.72 10 6.07 0 1 617.3 455.83 A3.72 10 6.07 0 1 622.06 446.28Z" fill="#222" stroke="#111" stroke-width="1.3" />
<path d="M622.94 466.49 A3.72 10 6.07 0 1 620.3 456.15 A3.72 10 6.07 0 1 625.06 446.6" fill="none" stroke="#111" stroke-width="1.3" />
<path d="M627.33 456.9 A3.35 9 6.07 0 1 623.05 465.49 A3.35 9 6.07 0 1 620.67 456.19 A3.35 9 6.07 0 1 624.95 447.59 A3.35 9 6.07 0 1 627.33 456.9" fill="#fff" stroke="#111" stroke-width="2.4" />
<path d="M626.49 456.81 A2.31 6.2 6.07 0 1 623.54 462.73 A2.31 6.2 6.07 0 1 621.91 456.32 A2.31 6.2 6.07 0 1 624.86 450.4 A2.31 6.2 6.07 0 1 626.49 456.81" fill="none" stroke="#111" stroke-width="1.8" />
<path d="M625.88 456.74 A1.49 4 6.07 0 1 623.98 460.56 A1.49 4 6.07 0 1 622.92 456.43 A1.49 4 6.07 0 1 624.82 452.61 A1.49 4 6.07 0 1 625.88 456.74" fill="none" stroke="#111" stroke-width="1.2" />
<path d="M636.74 450.86 A2.6 7 6.07 0 1 638.59 458.09 A2.6 7 6.07 0 1 635.26 464.78 L630.26 464.25 A2.6 7 6.07 0 1 628.41 457.01 A2.6 7 6.07 0 1 631.74 450.33Z" fill="#fff" stroke="#111" stroke-width="1.2" />
<path d="M635.26 464.78 A2.6 7 6.07 0 1 633.41 457.54 A2.6 7 6.07 0 1 636.74 450.86" fill="none" stroke="#111" stroke-width="1.2" />
<path d="M639.15 449.1 A3.35 9 6.07 0 1 641.53 458.41 A3.35 9 6.07 0 1 637.25 467 L635.05 466.77 A3.35 9 6.07 0 1 632.67 457.47 A3.35 9 6.07 0 1 636.95 448.87Z" fill="#fff" stroke="#111" stroke-width="1.4" />
<path d="M637.25 467 A3.35 9 6.07 0 1 634.87 457.7 A3.35 9 6.07 0 1 639.15 449.1" fill="none" stroke="#111" stroke-width="1.4" />
<path d="M640.64 458.31 A2.46 6.6 6.07 0 1 637.5 464.62 A2.46 6.6 6.07 0 1 635.76 457.79 A2.46 6.6 6.07 0 1 638.9 451.49 A2.46 6.6 6.07 0 1 640.64 458.31" fill="none" stroke="#111" stroke-width="1.8" />
<path d="M639.95 458.24 A1.56 4.2 6.07 0 1 637.96 462.25 A1.56 4.2 6.07 0 1 636.85 457.91 A1.56 4.2 6.07 0 1 638.84 453.9 A1.56 4.2 6.07 0 1 639.95 458.24" fill="none" stroke="#111" stroke-width="1.3" />
</g>
<g id="valve">
<path d="M442.6 175.6 Q446.2 173.2 450.0 176.2 L449.4 179.6 Q445.6 181.4 442.2 179.0 Z" fill="#222" stroke="#111" stroke-width="1.2"/>
<path d="M443.0 180.2 L447.6 181.4 L445.8 187.6 L442.2 186.6 Z" fill="#fff" stroke="#111" stroke-width="1.3"/>
<path d="M442.8 183.0 L446.8 184.2 M444.6 180.8 L443.8 187" stroke="#111" stroke-width="1.0" fill="none"/>
<path d="M443.6 176.6 L449.2 177.8" stroke="#fff" stroke-width="0.7" fill="none"/>
</g>
<g id="nut13">
<path d="M1012.6 488.2 L1019.6 488.8 Q1022.6 492 1023.6 499.4 Q1023.4 506 1021 509 L1017.6 511 L1012 510.4 Q1010 505 1010.4 498 Q1010.6 492 1012.6 488.2Z" fill="#1c1c1c" stroke="#111" stroke-width="1"/>
<path d="M1012.4 493.2 l3.4 0.4 M1012.2 497.0 l3.2 0.4 M1012.4 502.6 l3.6 0.4 M1012.8 506.6 l3.6 0.4" stroke="#fff" stroke-width="1.3" fill="none"/>
<path d="M1017.8 495.4 l1.2 4.6 M1018.2 502.4 l1.8 3.4 M1020.2 493.0 l1.2 3.0 M1017.0 491.0 l2.4 0.6" stroke="#fff" stroke-width="0.9" fill="none"/>
</g>
<g id="belt">
<path d="M649.96 709 C653.55 690.83 663.95 638.17 671.49 600 C679.02 561.83 690.64 503 695.19 480 C699.73 457 697.63 467.68 698.74 462 C699.85 456.32 700.32 450.73 701.85 445.95 C703.38 441.17 706.2 436.11 707.95 433.3 C709.7 430.49 711.03 429.98 712.35 429.1 C713.67 428.23 714.67 428.05 715.85 428.05 C717.03 428.05 718.28 428.33 719.45 429.1 C720.62 429.87 721.71 430.47 722.85 432.65 C723.99 434.83 725.52 437.97 726.3 442.2 C727.07 446.43 727.72 451.37 727.5 458 C727.28 464.63 726 475 725 482 C724 489 724.23 488.67 721.5 500 C718.77 511.33 712.9 533.33 708.6 550 C704.3 566.67 699.8 584.17 695.7 600 C691.6 615.83 687.3 633 684 645 C680.7 657 678.27 663.92 675.9 672 C673.53 680.08 671.58 686.83 669.8 693.5 C668.02 700.17 665.97 708.92 665.2 712" fill="none" stroke="#fff" stroke-width="11" />
<path d="M644.46 709 C645.41 704.17 647.26 694.83 650.19 680 C653.12 665.17 658.09 640 662.04 620 C665.99 600 669.94 580 673.89 560 C677.84 540 683.1 513.33 685.74 500 C688.37 486.67 688.44 486.33 689.69 480 C690.94 473.67 691.84 468.15 693.24 462 C694.64 455.85 696.04 448.58 698.1 443.1 C700.16 437.62 703.37 432.18 705.6 429.1 C707.83 426.02 709.68 425.57 711.5 424.6 C713.32 423.63 714.83 423.3 716.5 423.3 C718.17 423.3 719.87 423.63 721.5 424.6 C723.13 425.57 724.72 426.63 726.3 429.1 C727.88 431.57 729.95 434.58 731 439.4 C732.05 444.22 732.7 450.9 732.6 458 C732.5 465.1 731.35 475 730.4 482 C729.45 489 729.63 488.67 726.9 500 C724.17 511.33 718.3 533.33 714 550 C709.7 566.67 705.2 584.17 701.1 600 C697 615.83 692.7 633 689.4 645 C686.1 657 683.67 663.92 681.3 672 C678.93 680.08 676.98 686.83 675.2 693.5 C673.42 700.17 671.37 708.92 670.6 712" fill="none" stroke="#111" stroke-width="1.35" />
<path d="M646.86 709 C647.81 704.17 649.66 694.83 652.59 680 C655.52 665.17 660.49 640 664.44 620 C668.39 600 672.34 580 676.29 560 C680.24 540 685.5 513.33 688.14 500 C690.77 486.67 690.84 486.33 692.09 480 C693.34 473.67 694.36 467.94 695.64 462 C696.93 456.06 697.95 449.54 699.8 444.39 C701.64 439.23 704.68 434 706.7 431.07 C708.72 428.13 710.33 427.68 711.91 426.78 C713.49 425.88 714.77 425.61 716.17 425.68 C717.58 425.74 719.02 426.2 720.34 427.15 C721.66 428.09 722.89 428.98 724.12 431.34 C725.35 433.71 726.95 436.91 727.72 441.36 C728.48 445.8 728.9 451.23 728.7 458 C728.5 464.77 727.45 475 726.5 482 C725.55 489 725.73 488.67 723 500 C720.27 511.33 714.4 533.33 710.1 550 C705.8 566.67 701.3 584.17 697.2 600 C693.1 615.83 688.8 633 685.5 645 C682.2 657 679.77 663.92 677.4 672 C675.03 680.08 673.08 686.83 671.3 693.5 C669.52 700.17 667.47 708.92 666.7 712" fill="none" stroke="#111" stroke-width="1.1" />
<path d="M649.16 709 C650.11 704.17 651.96 694.83 654.89 680 C657.82 665.17 662.79 640 666.74 620 C670.69 600 674.64 580 678.59 560 C682.54 540 687.8 513.33 690.44 500 C693.07 486.67 693.14 486.33 694.39 480 C695.64 473.67 696.77 467.73 697.94 462 C699.12 456.27 699.8 450.47 701.44 445.64 C703.08 440.8 705.97 435.78 707.78 432.99 C709.59 430.21 710.97 429.76 712.32 428.94 C713.66 428.11 714.68 427.99 715.85 428.05 C717.02 428.11 718.24 428.48 719.36 429.3 C720.48 430.12 721.49 430.75 722.55 432.96 C723.6 435.18 725 438.4 725.68 442.57 C726.35 446.74 726.81 451.43 726.6 458 C726.39 464.57 725.35 475 724.4 482 C723.45 489 723.63 488.67 720.9 500 C718.17 511.33 712.3 533.33 708 550 C703.7 566.67 699.2 584.17 695.1 600 C691 615.83 686.7 633 683.4 645 C680.1 657 677.67 663.92 675.3 672 C672.93 680.08 670.98 686.83 669.2 693.5 C667.42 700.17 665.37 708.92 664.6 712" fill="none" stroke="#111" stroke-width="1.1" />
<path d="M651.46 709 C652.41 704.17 654.26 694.83 657.19 680 C660.12 665.17 665.09 640 669.04 620 C672.99 600 676.94 580 680.89 560 C684.84 540 690.1 513.33 692.74 500 C695.37 486.67 695.44 486.33 696.69 480 C697.94 473.67 699.18 467.52 700.24 462 C701.31 456.48 701.65 451.4 703.09 446.89 C704.52 442.38 707.25 437.56 708.86 434.92 C710.46 432.29 711.62 431.84 712.73 431.09 C713.84 430.34 714.58 430.37 715.53 430.43 C716.47 430.48 717.47 430.76 718.38 431.45 C719.29 432.14 720.1 432.53 720.97 434.58 C721.85 436.64 723.05 439.88 723.64 443.79 C724.23 447.69 724.72 451.63 724.5 458 C724.28 464.37 723.25 475 722.3 482 C721.35 489 721.53 488.67 718.8 500 C716.07 511.33 710.2 533.33 705.9 550 C701.6 566.67 697.1 584.17 693 600 C688.9 615.83 684.6 633 681.3 645 C678 657 675.57 663.92 673.2 672 C670.83 680.08 668.88 686.83 667.1 693.5 C665.32 700.17 663.27 708.92 662.5 712" fill="none" stroke="#111" stroke-width="1.1" />
<path d="M710.3 437.5 C710.78 436.85 712.38 434.38 713.2 433.6 C714.02 432.82 714.5 432.8 715.2 432.8 C715.9 432.8 716.7 433.03 717.4 433.6 C718.1 434.17 718.7 434.3 719.4 436.2 C720.1 438.1 721.1 441.37 721.6 445 C722.1 448.63 722.63 451.83 722.4 458 C722.17 464.17 721.15 475 720.2 482 C719.25 489 719.43 488.67 716.7 500 C713.97 511.33 708.1 533.33 703.8 550 C699.5 566.67 695 584.17 690.9 600 C686.8 615.83 682.5 633 679.2 645 C675.9 657 673.47 663.92 671.1 672 C668.73 680.08 666.78 686.83 665 693.5 C663.22 700.17 661.17 708.92 660.4 712" fill="none" stroke="#111" stroke-width="1.1" />
<path d="M656.82 694.5 C657.3 692.08 657.23 692.42 659.69 680 C662.14 667.58 667.59 640 671.54 620 C675.49 600 679.44 580 683.39 560 C687.34 540 692.6 513.33 695.24 500 C697.87 486.67 697.94 486.33 699.19 480 C700.44 473.67 701.84 467.33 702.74 462 C703.64 456.67 703.42 452.29 704.57 448.02 C705.72 443.74 708.25 438.95 709.65 436.34 C711.05 433.73 712.41 433.01 712.96 432.35" fill="none" stroke="#222" stroke-width="2.8" stroke-dasharray="2.7 1.9"/>
<path d="M725.03 430.4 C725.75 432.06 728.38 435.78 729.36 440.38 C730.33 444.98 731.01 451.06 730.9 458 C730.79 464.94 729.65 475 728.7 482 C727.75 489 727.93 488.67 725.2 500 C722.47 511.33 716.6 533.33 712.3 550 C708 566.67 703.5 584.17 699.4 600 C695.3 615.83 691 633 687.7 645 C684.4 657 681.97 663.92 679.6 672 C677.23 680.08 675.16 687.33 673.5 693.5 C671.84 699.67 670.29 706.42 669.65 709" fill="none" stroke="#222" stroke-width="2.8" stroke-dasharray="2.7 1.9"/>
<path d="M694.2 454.2 L701.6 454.8 M722.4 466.6 L728.6 467.2" fill="none" stroke="#111" stroke-width="1" />
<path d="M646.24 700 C645.94 701.5 644.67 705.75 644.46 709 C644.25 712.25 644.31 716.47 645 719.5 C645.69 722.53 647.02 725.52 648.6 727.2 C650.18 728.88 652.63 729.8 654.5 729.6 C656.37 729.4 658.12 727.67 659.8 726 C661.48 724.33 663.07 721.77 664.6 719.6 C666.13 717.43 667.75 715.27 669 713 C670.25 710.73 671.58 707.17 672.09 706" fill="none" stroke="#111" stroke-width="1.1" />
<path d="M648.64 700 C648.34 701.5 647.08 705.85 646.86 709 C646.64 712.15 646.69 716.18 647.3 718.9 C647.91 721.62 649.2 723.93 650.5 725.3 C651.8 726.67 653.68 727.42 655.1 727.1 C656.52 726.78 657.65 724.9 659 723.4 C660.35 721.9 662.1 719.83 663.2 718.1 C664.3 716.37 664.77 715.02 665.6 713 C666.43 710.98 667.76 707.17 668.19 706" fill="none" stroke="#111" stroke-width="0.9" />
<path d="M650.94 700 C650.64 701.5 649.38 705.95 649.16 709 C648.94 712.05 649.06 715.9 649.6 718.3 C650.14 720.7 651.38 722.35 652.4 723.4 C653.42 724.45 654.73 725.03 655.7 724.6 C656.67 724.17 657.18 722.13 658.2 720.8 C659.22 719.47 660.83 717.9 661.8 716.6 C662.77 715.3 663.28 714.77 664 713 C664.72 711.23 665.74 707.17 666.09 706" fill="none" stroke="#111" stroke-width="0.9" />
<path d="M653.24 700 C652.94 701.5 651.68 706.05 651.46 709 C651.24 711.95 651.43 715.62 651.9 717.7 C652.37 719.78 653.57 720.77 654.3 721.5 C655.03 722.23 655.78 722.65 656.3 722.1 C656.82 721.55 656.72 719.37 657.4 718.2 C658.08 717.03 659.57 715.97 660.4 715.1 C661.23 714.23 661.8 714.52 662.4 713 C663 711.48 663.73 707.17 663.99 706" fill="none" stroke="#111" stroke-width="0.9" />
<path d="M669.4 709 C669.03 709.83 668.13 712.27 667.2 714 C666.27 715.73 665 717.67 663.8 719.4 C662.6 721.13 660.63 723.57 660 724.4" fill="none" stroke="#222" stroke-width="2.6" stroke-dasharray="2.7 1.9"/>
<path d="M655.6 705.5 Q659.6 703 658.6 712 Q657 716 654.4 716.5 Q653.2 711 655.6 705.5Z" fill="#222" stroke="#111" stroke-width="1"/>
<path d="M656.4 693.8 Q659.8 695.4 661.2 698.4 Q663 703 661.8 707" fill="none" stroke="#111" stroke-width="1.5"/>
<path d="M643.8 708.6 L650.6 709.2" fill="none" stroke="#111" stroke-width="1" />
<path d="M717.6 352.2L717.6 423.4" stroke="#111" stroke-width="1.3" fill="none" />
</g>
<g id="damper9">
<path d="M763.5 449.32 L778.4 450.94 Q781.6 451.26 781.6 454.46 L781.6 461.66 Q781.6 464.86 778.4 464.54 L763.5 462.92 Q760.3 462.6 760.3 459.4 L760.3 452.2 Q760.3 449 763.5 449.32Z" fill="#fff" stroke="#111" stroke-width="2.5" />
<path d="M772.23 451.07 Q769.63 457.07 772.23 463.07" fill="none" stroke="#111" stroke-width="3" />
<path d="M775.83 451.47 Q773.83 457.07 775.83 463.27" fill="none" stroke="#111" stroke-width="1.7" />
<path d="M761.8 452.6 L770.43 453.87 M761.8 459.2 L770.43 460.47" fill="none" stroke="#111" stroke-width="1.9" />
<path d="M780.19 457.91 A2 4.8 6.07 0 1 777.69 462.48 A2 4.8 6.07 0 1 776.21 457.49 A2 4.8 6.07 0 1 778.71 452.93 A2 4.8 6.07 0 1 780.19 457.91" fill="none" stroke="#111" stroke-width="1.9" />
<path d="M778 454.5 l0.6 6.6" fill="none" stroke="#111" stroke-width="1.6" />
<path d="M760.2 465.32 L765.6 465.93 Q768.8 466.25 768.8 469.45 L768.8 476.45 Q768.8 479.65 765.6 479.33 L760.2 478.72 Q757 478.4 757 475.2 L757 468.2 Q757 465 760.2 465.32Z" fill="#fff" stroke="#111" stroke-width="2.5" />
<path d="M762.31 466.36 Q759.71 472.26 762.31 478.16" fill="none" stroke="#111" stroke-width="3" />
<path d="M765.91 466.76 Q763.91 472.26 765.91 478.36" fill="none" stroke="#111" stroke-width="1.7" />
<path d="M758.5 468.6 L760.51 469.16 M758.5 475 L760.51 475.56" fill="none" stroke="#111" stroke-width="1.9" />
<path d="M767.39 472.8 A2 4.7 6.07 0 1 764.9 477.27 A2 4.7 6.07 0 1 763.41 472.38 A2 4.7 6.07 0 1 765.9 467.92 A2 4.7 6.07 0 1 767.39 472.8" fill="none" stroke="#111" stroke-width="1.9" />
<path d="M765.2 469.49 l0.6 6.4" fill="none" stroke="#111" stroke-width="1.6" />
<path d="M773.2 463.72 L780.2 464.5 Q783.4 464.82 783.4 468.02 L783.4 474.82 Q783.4 478.02 780.2 477.7 L773.2 476.92 Q770 476.6 770 473.4 L770 466.6 Q770 463.4 773.2 463.72Z" fill="#fff" stroke="#111" stroke-width="2.5" />
<path d="M774.69 464.7 Q772.09 470.5 774.69 476.3" fill="none" stroke="#111" stroke-width="3" />
<path d="M778.29 465.1 Q776.29 470.5 778.29 476.5" fill="none" stroke="#111" stroke-width="1.7" />
<path d="M771.5 467 L772.89 467.5 M771.5 473.2 L772.89 473.7" fill="none" stroke="#111" stroke-width="1.9" />
<path d="M781.99 471.27 A2 4.6 6.07 0 1 779.51 475.64 A2 4.6 6.07 0 1 778.01 470.85 A2 4.6 6.07 0 1 780.49 466.49 A2 4.6 6.07 0 1 781.99 471.27" fill="none" stroke="#111" stroke-width="1.9" />
<path d="M779.8 468.06 l0.6 6.2" fill="none" stroke="#111" stroke-width="1.6" />
<path d="M761.4 479.32 L776.6 480.98 Q779.8 481.3 779.8 484.5 L779.8 491.3 Q779.8 494.5 776.6 494.18 L761.4 492.52 Q758.2 492.2 758.2 489 L758.2 482.2 Q758.2 479 761.4 479.32Z" fill="#fff" stroke="#111" stroke-width="2.5" />
<path d="M770.3 481.09 Q767.7 486.89 770.3 492.69" fill="none" stroke="#111" stroke-width="3" />
<path d="M773.9 481.49 Q771.9 486.89 773.9 492.89" fill="none" stroke="#111" stroke-width="1.7" />
<path d="M759.7 482.6 L768.5 483.89 M759.7 488.8 L768.5 490.09" fill="none" stroke="#111" stroke-width="1.9" />
<path d="M778.39 487.75 A2 4.6 6.07 0 1 775.91 492.11 A2 4.6 6.07 0 1 774.41 487.32 A2 4.6 6.07 0 1 776.89 482.96 A2 4.6 6.07 0 1 778.39 487.75" fill="none" stroke="#111" stroke-width="1.9" />
<path d="M776.2 484.53 l0.6 6.2" fill="none" stroke="#111" stroke-width="1.6" />
</g>
<g id="nuts10">
<path d="M840.3 447.3 l4.2 0.45 l-0.3 6.2 l-4.2 -0.45 Z" fill="#999" stroke="#111" stroke-width="2.0"/>
<path d="M842.5 447.9 l-0.2 5.0 M840.6 450.4 l3.4 0.35" stroke="#111" stroke-width="1.3" fill="none"/>
<path d="M829.1 463.3 l4.2 0.45 l-0.3 6.2 l-4.2 -0.45 Z" fill="#999" stroke="#111" stroke-width="2.0"/>
<path d="M831.3 463.9 l-0.2 5.0 M829.4 466.4 l3.4 0.35" stroke="#111" stroke-width="1.3" fill="none"/>
<path d="M848.6 459.4 l4.2 0.45 l-0.3 6.2 l-4.2 -0.45 Z" fill="#999" stroke="#111" stroke-width="2.0"/>
<path d="M850.8 460 l-0.2 5.0 M848.9 462.5 l3.4 0.35" stroke="#111" stroke-width="1.3" fill="none"/>
<path d="M827.8 491.8 l4.2 0.45 l-0.3 6.2 l-4.2 -0.45 Z" fill="#999" stroke="#111" stroke-width="2.0"/>
<path d="M830 492.4 l-0.2 5.0 M828.1 494.9 l3.4 0.35" stroke="#111" stroke-width="1.3" fill="none"/>
<path d="M846.7 488.4 l4.2 0.45 l-0.3 6.2 l-4.2 -0.45 Z" fill="#999" stroke="#111" stroke-width="2.0"/>
<path d="M848.9 489 l-0.2 5.0 M847 491.5 l3.4 0.35" stroke="#111" stroke-width="1.3" fill="none"/>
<path d="M836.4 504.7 l4.2 0.45 l-0.3 6.2 l-4.2 -0.45 Z" fill="#999" stroke="#111" stroke-width="2.0"/>
<path d="M838.6 505.3 l-0.2 5.0 M836.7 507.8 l3.4 0.35" stroke="#111" stroke-width="1.3" fill="none"/>
</g>
<g id="sprocket11">
<path d="M887.26 484.83 A16.15 41.2 6.07 0 1 866.84 524.09 A16.15 41.2 6.07 0 1 855.14 481.41 A16.15 41.2 6.07 0 1 875.56 442.15 A16.15 41.2 6.07 0 1 887.26 484.83" fill="#fff" stroke="#fff" stroke-width="0.6" />
<path d="M886.79 484.78 A15.68 40 6.07 0 1 866.97 522.9 A15.68 40 6.07 0 1 855.61 481.46 A15.68 40 6.07 0 1 875.43 443.35 A15.68 40 6.07 0 1 886.79 484.78" fill="none" stroke="#1c1c1c" stroke-width="3.6" stroke-dasharray="3.65 1.12"/>
<path d="M886.79 484.78 A15.68 40 6.07 0 1 866.97 522.9 A15.68 40 6.07 0 1 855.61 481.46 A15.68 40 6.07 0 1 875.43 443.35 A15.68 40 6.07 0 1 886.79 484.78" fill="none" stroke="#fff" stroke-width="0.8" stroke-dasharray="0.9 3.87" stroke-dashoffset="-1.4"/>
<path d="M886 484.66 A14.58 37.2 6.07 0 1 867.57 520.11 A14.58 37.2 6.07 0 1 857 481.58 A14.58 37.2 6.07 0 1 875.43 446.13 A14.58 37.2 6.07 0 1 886 484.66" fill="none" stroke="#111" stroke-width="1.3" />
<path d="M884.72 484.51 A13.09 34 6.07 0 1 868.1 516.93 A13.09 34 6.07 0 1 858.68 481.74 A13.09 34 6.07 0 1 875.3 449.31 A13.09 34 6.07 0 1 884.72 484.51" fill="none" stroke="#2a2a2a" stroke-width="3.2" stroke-dasharray="2.9 1.2"/>
<path d="M883 484.31 A11.26 30.6 6.07 0 1 868.56 513.55 A11.26 30.6 6.07 0 1 860.6 481.93 A11.26 30.6 6.07 0 1 875.04 452.69 A11.26 30.6 6.07 0 1 883 484.31" fill="none" stroke="#2a2a2a" stroke-width="3.4" stroke-dasharray="3.3 1.1 1.8 1.1"/>
<path d="M883.81 484.41 A12.18 32.3 6.07 0 1 868.28 515.24 A12.18 32.3 6.07 0 1 859.59 481.83 A12.18 32.3 6.07 0 1 875.12 451 A12.18 32.3 6.07 0 1 883.81 484.41" fill="none" stroke="#fff" stroke-width="0.7" stroke-dasharray="2 3"/>
<path d="M878.9 484.46 A8.14 25.6 6.07 0 1 868.09 509.06 A8.14 25.6 6.07 0 1 862.7 482.74 A8.14 25.6 6.07 0 1 873.51 458.14 A8.14 25.6 6.07 0 1 878.9 484.46" fill="#fff" stroke="#111" stroke-width="1.6" />
<path d="M862.6 481.91 L879.2 483.67" fill="none" stroke="#111" stroke-width="1" />
</g>
<g id="bolts12">
<path d="M951.5 460.6 l8.0 0.85 l-0.2 2.7 l-8.0 -0.85 Z" fill="#ddd" stroke="#111" stroke-width="1.1"/>
<path d="M962.79 462.98 A1.7 3.3 6.07 0 1 960.75 466.08 A1.7 3.3 6.07 0 1 959.41 462.62 A1.7 3.3 6.07 0 1 961.45 459.52 A1.7 3.3 6.07 0 1 962.79 462.98" fill="#222" stroke="#111" stroke-width="1.1" />
<path d="M940.5 477.3 l8.0 0.85 l-0.2 2.7 l-8.0 -0.85 Z" fill="#ddd" stroke="#111" stroke-width="1.1"/>
<path d="M951.79 479.68 A1.7 3.3 6.07 0 1 949.75 482.78 A1.7 3.3 6.07 0 1 948.41 479.32 A1.7 3.3 6.07 0 1 950.45 476.22 A1.7 3.3 6.07 0 1 951.79 479.68" fill="#222" stroke="#111" stroke-width="1.1" />
<path d="M959.6 473.4 l8.0 0.85 l-0.2 2.7 l-8.0 -0.85 Z" fill="#ddd" stroke="#111" stroke-width="1.1"/>
<path d="M970.89 475.78 A1.7 3.3 6.07 0 1 968.85 478.88 A1.7 3.3 6.07 0 1 967.51 475.42 A1.7 3.3 6.07 0 1 969.55 472.32 A1.7 3.3 6.07 0 1 970.89 475.78" fill="#222" stroke="#111" stroke-width="1.1" />
<path d="M939.5 505.8 l8.0 0.85 l-0.2 2.7 l-8.0 -0.85 Z" fill="#ddd" stroke="#111" stroke-width="1.1"/>
<path d="M950.79 508.18 A1.7 3.3 6.07 0 1 948.75 511.28 A1.7 3.3 6.07 0 1 947.41 507.82 A1.7 3.3 6.07 0 1 949.45 504.72 A1.7 3.3 6.07 0 1 950.79 508.18" fill="#222" stroke="#111" stroke-width="1.1" />
<path d="M958.4 501.9 l8.0 0.85 l-0.2 2.7 l-8.0 -0.85 Z" fill="#ddd" stroke="#111" stroke-width="1.1"/>
<path d="M969.69 504.28 A1.7 3.3 6.07 0 1 967.65 507.38 A1.7 3.3 6.07 0 1 966.31 503.92 A1.7 3.3 6.07 0 1 968.35 500.82 A1.7 3.3 6.07 0 1 969.69 504.28" fill="#222" stroke="#111" stroke-width="1.1" />
<path d="M947.9 518.4 l8.0 0.85 l-0.2 2.7 l-8.0 -0.85 Z" fill="#ddd" stroke="#111" stroke-width="1.1"/>
<path d="M959.19 520.78 A1.7 3.3 6.07 0 1 957.15 523.88 A1.7 3.3 6.07 0 1 955.81 520.42 A1.7 3.3 6.07 0 1 957.85 517.32 A1.7 3.3 6.07 0 1 959.19 520.78" fill="#222" stroke="#111" stroke-width="1.1" />
</g>
<g id="fwd" fill="#fff" stroke="#111" stroke-width="1.5" stroke-linejoin="miter">
<path d="M69.9 702.1 L74.5 704.7 L54.8 731.1 L49.2 728 Z"/>
<path d="M74.5 704.7 L54.8 731.1 L78.1 733.4 Z"/>
<path d="M75.5 705.7 L99.4 693 L104.5 695.7 L75.9 710 Z"/>
<path d="M75.9 710 L104.5 695.7 L106.4 711.4 L77.3 726.9 Z"/>
</g>
<text transform="matrix(0.87 -0.43 0.12 1.0 73.6 727.6)" font-size="22" style="font-family:'Liberation Serif',serif;font-weight:bold;font-style:italic;stroke-width:1.3px" textLength="30" lengthAdjust="spacingAndGlyphs">FWD</text>
</svg>
</body></html>
